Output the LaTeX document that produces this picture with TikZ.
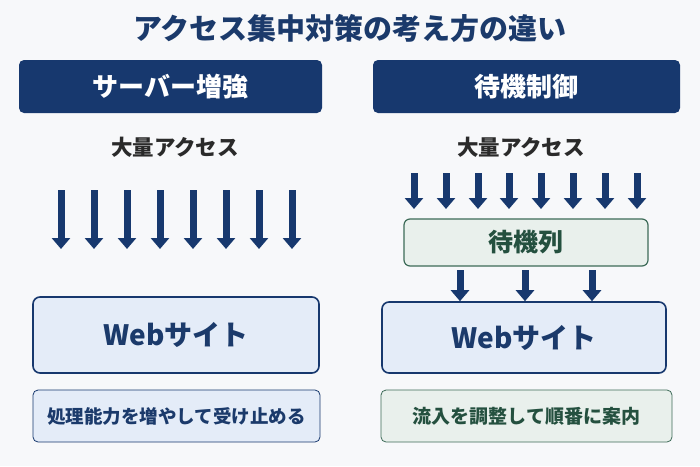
\documentclass[tikz,border=0pt]{standalone}
\usepackage{fontspec}
\setmainfont{Noto Sans CJK JP}
\usetikzlibrary{arrows.meta, positioning, calc}
\definecolor{pagebg}{HTML}{F7F8FA}
\definecolor{navy}{HTML}{17386E}
\definecolor{navytext}{HTML}{1B3A6B}
\definecolor{skyfill}{HTML}{E4ECF8}
\definecolor{pinefill}{HTML}{E9F0EC}
\definecolor{pineline}{HTML}{3D6B58}
\definecolor{pinetext}{HTML}{24503F}
\definecolor{inkdark}{HTML}{2A2A2A}

\begin{document}
\begin{tikzpicture}[x=1pt, y=-1pt, font=\bfseries,
    header/.style={fill=navy, rounded corners=5pt, text=white,
                   minimum height=53pt, font=\fontsize{26}{29}\selectfont\bfseries},
    site/.style={draw=navy, line width=1.6pt, fill=skyfill, rounded corners=7pt,
                 text=navytext, font=\fontsize{28}{31}\selectfont\bfseries},
    note/.style={draw=navy, line width=0.8pt, fill=skyfill, rounded corners=5pt,
                 minimum height=52pt, text=navytext},
    flow/.style={-{Triangle[width=18pt, length=11pt]}, navy, line width=7pt}]
  \useasboundingbox[fill=pagebg] (0,0) rectangle (700,466);
  \node[text=navytext, font=\fontsize{29}{33}\selectfont\bfseries] (title) at (350,28)
    {アクセス集中対策の考え方の違い};
  % left: scale up
  \node[header, minimum width=303pt] (hl) at (170.5,86.5) {サーバー増強};
  \node[text=inkdark, font=\fontsize{21.5}{25}\selectfont\bfseries] (al) at (175,147)
    {大量アクセス};
  \node[site, minimum width=286pt, minimum height=76pt] (wl) at (176,335) {Webサイト};
  \node[note, minimum width=287pt, font=\fontsize{18.5}{22}\selectfont\bfseries] (nl)
    at (176.5,416) {処理能力を増やして受け止める};
  \foreach \x [count=\i] in {61,94,127,160,193,226,259,292} {
    \coordinate (ls\i) at (\x,190);
    \coordinate (le\i) at (\x,249);
    \draw[flow] (ls\i) -- (le\i);
  }
  % right: waiting room
  \node[header, minimum width=307pt] (hr) at (526.5,86.5) {待機制御};
  \node[text=inkdark, font=\fontsize{21.5}{25}\selectfont\bfseries] (ar) at (521,147)
    {大量アクセス};
  \node[draw=pineline, line width=1.2pt, fill=pinefill, rounded corners=6pt,
        minimum width=244pt, minimum height=47pt, text=pinetext,
        font=\fontsize{25}{29}\selectfont\bfseries] (queue) at (526,242.5) {待機列};
  \node[site, minimum width=284pt, minimum height=71pt] (wr) at (524,337.5) {Webサイト};
  \node[note, draw=pineline, fill=pinefill, minimum width=291pt, text=pinetext,
        font=\fontsize{19}{22}\selectfont\bfseries] (nr)
    at (526.5,416) {流入を調整して順番に案内};
  \foreach \x [count=\i] in {414,446,478,509,541,573,605,637} {
    \coordinate (rs\i) at (\x,173);
    \coordinate (re\i) at (\x,209);
    \draw[flow] (rs\i) -- (re\i);
  }
  \foreach \x [count=\i] in {460,525,592} {
    \coordinate (qs\i) at (\x,270);
    \draw[flow] (qs\i) -- (qs\i |- wr.north);
  }
\end{tikzpicture}
\end{document}
